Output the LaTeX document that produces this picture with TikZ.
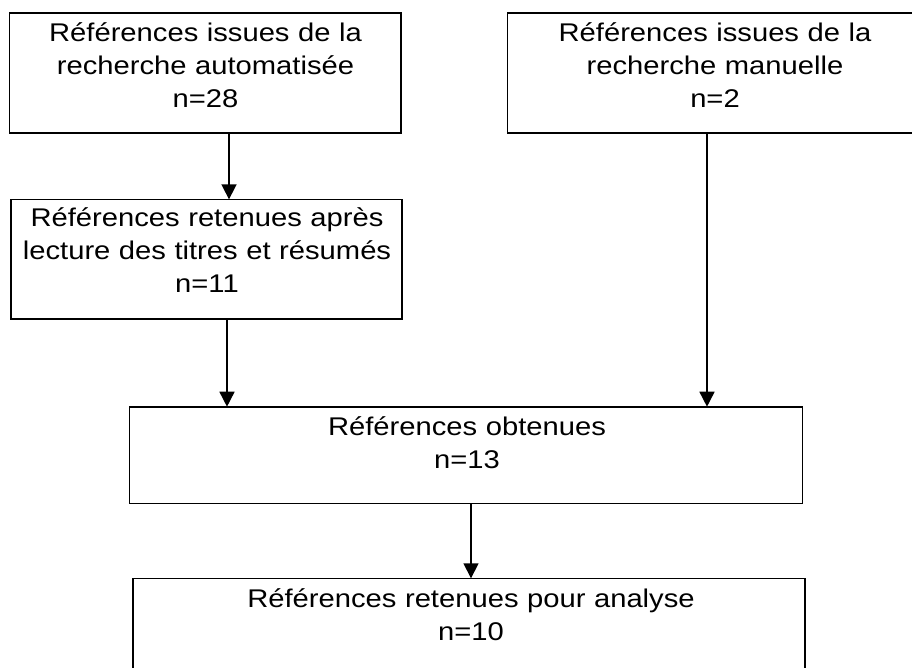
\documentclass[tikz,border=0pt]{standalone}
\usepackage{fontspec}
\setmainfont[FakeStretch=1.14]{Liberation Sans}
\usetikzlibrary{arrows.meta}
\begin{document}
\begin{tikzpicture}[x=1pt,y=-1pt,
  box/.style={draw=black,line width=1.6pt,inner sep=0pt,outer sep=0pt},
  txt/.style={inner sep=0pt,outer sep=0pt,align=center,text width=600pt,anchor=base,
              font=\fontsize{25.6}{33}\selectfont},
  arr/.style={line width=1.6pt,-{Triangle[width=15pt,length=15pt]}}]
\useasboundingbox (0,0) rectangle (912,668);
\clip (0,0) rectangle (912,668);
% boxes
\node[box,minimum width=391.5pt,minimum height=120pt] (a) at (205.25,73.3) {};
\node[box,minimum width=415.4pt,minimum height=120pt] (b) at (715,73.3) {};
\node[box,minimum width=391pt,minimum height=119.7pt] (c) at (206.5,259.2) {};
\node[box,minimum width=673pt,minimum height=96.6pt] (d) at (465.8,455) {};
\node[box,minimum width=672pt,minimum height=96.6pt] (e) at (469,626.6) {};
% texts
\node[txt] (ta) at (205.5,42) {Références issues de la\\recherche automatisée\\n=28};
\node[txt] (tb) at (715,42) {Références issues de la\\recherche manuelle\\n=2};
\node[txt] (tc) at (207,226.7) {Références retenues après\\lecture des titres et résumés\\n=11};
\node[txt] (td) at (467,435) {Références obtenues\\n=13};
\node[txt] (te) at (471,607) {Références retenues pour analyse\\n=10};
% connector columns
\coordinate (xac) at (229,0);
\coordinate (xcd) at (227,0);
\coordinate (xbd) at (707,0);
\coordinate (xde) at (471,0);
\draw[arr] (a.south -| xac) -- (c.north -| xac);
\draw[arr] (c.south -| xcd) -- (d.north -| xcd);
\draw[arr] (b.south -| xbd) -- (d.north -| xbd);
\draw[arr] (d.south -| xde) -- (e.north -| xde);
\end{tikzpicture}
\end{document}
